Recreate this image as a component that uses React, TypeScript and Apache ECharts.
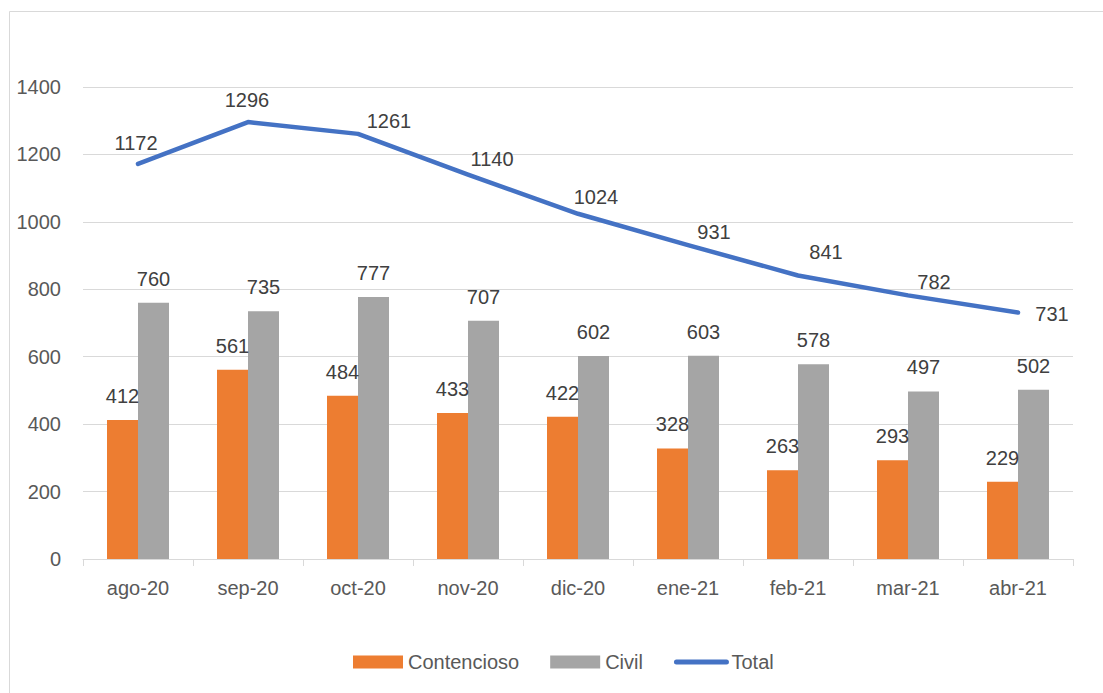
import React, { useEffect, useRef } from "react";
import * as echarts from "echarts";

const categories = ["ago-20", "sep-20", "oct-20", "nov-20", "dic-20", "ene-21", "feb-21", "mar-21", "abr-21"];
const contencioso = [412, 561, 484, 433, 422, 328, 263, 293, 229];
const civil = [760, 735, 777, 707, 602, 603, 578, 497, 502];
const total = [1172, 1296, 1261, 1140, 1024, 931, 841, 782, 731];
const yTicks = { min: 0, max: 1400, interval: 200 };

const FONT = "'Liberation Sans', Arial, sans-serif";

// label placement (pixel offset of label centre from its point) for the Total line — styling only
const totalLabelShift: [number, number][] = [
  [-2, -21],
  [-1, -22],
  [31, -13],
  [24, -16],
  [18, -17],
  [26, -13],
  [28, -23],
  [26, -13],
  [34, 1],
];

export default function App() {
  const ref = useRef<HTMLDivElement>(null);
  useEffect(() => {
    if (!ref.current) return;
    const chart = echarts.init(ref.current, null, { renderer: "svg" });
    const labelStyle = { fontFamily: FONT, fontSize: 20, color: "#404040" };
    chart.setOption({
      animation: false,
      backgroundColor: "#ffffff",
      textStyle: { fontFamily: FONT },
      graphic: [
        {
          type: "rect",
          shape: { x: 9.5, y: 11.5, width: 1110, height: 700 },
          style: { fill: "none", stroke: "#d9d9d9", lineWidth: 1 },
          silent: true,
        },
      ],
      grid: { left: 83, right: 30, top: 87, bottom: 134, containLabel: false },
      legend: {
        left: 348,
        top: 647,
        itemWidth: 50,
        itemHeight: 13,
        itemGap: 31,
        textStyle: { fontFamily: FONT, fontSize: 20, color: "#595959" },
        data: [
          { name: "Contencioso", icon: "rect" },
          { name: "Civil", icon: "rect" },
          { name: "Total", lineStyle: { width: 5, cap: "round", color: "#4472C4" } },
        ],
      },
      xAxis: {
        type: "category",
        data: categories,
        boundaryGap: true,
        axisLine: { show: true, lineStyle: { color: "#d9d9d9", width: 1 } },
        axisTick: { show: true, alignWithLabel: false, length: 7, lineStyle: { color: "#d9d9d9" } },
        axisLabel: { fontFamily: FONT, fontSize: 20, color: "#595959", margin: 19 },
      },
      yAxis: {
        type: "value",
        min: yTicks.min,
        max: yTicks.max,
        interval: yTicks.interval,
        axisLine: { show: false },
        axisTick: { show: false },
        splitLine: { lineStyle: { color: "#d9d9d9", width: 1 } },
        axisLabel: {
          fontFamily: FONT,
          fontSize: 20,
          color: "#595959",
          margin: 22,
          formatter: (v: number) => String(v),
        },
      },
      series: [
        {
          name: "Contencioso",
          type: "bar",
          data: contencioso,
          barWidth: 31,
          barGap: "0%",
          itemStyle: { color: "#ED7D31" },
          label: { show: true, position: "top", distance: 14, ...labelStyle },
        },
        {
          name: "Civil",
          type: "bar",
          data: civil,
          barWidth: 31,
          barGap: "0%",
          itemStyle: { color: "#A5A5A5" },
          label: { show: true, position: "top", distance: 14, ...labelStyle },
        },
        {
          name: "Total",
          type: "line",
          data: total.map((v, i) => ({
            value: v,
            label: {
              position: [totalLabelShift[i][0] + 0.5, totalLabelShift[i][1] + 0.5],
              align: "center",
              verticalAlign: "middle",
            },
          })),
          showSymbol: true,
          symbol: "circle",
          symbolSize: 1,
          lineStyle: { color: "#4472C4", width: 4.5, cap: "round", join: "round" },
          itemStyle: { color: "rgba(0,0,0,0)" },
          label: { show: true, ...labelStyle },
          labelLayout: { hideOverlap: false },
          z: 5,
        },
      ],
    });
    return () => chart.dispose();
  }, []);
  return (
    <div
      ref={ref}
      style={{ position: "absolute", left: 0, top: 0, width: 1103, height: 693, background: "#fff" }}
    />
  );
}
